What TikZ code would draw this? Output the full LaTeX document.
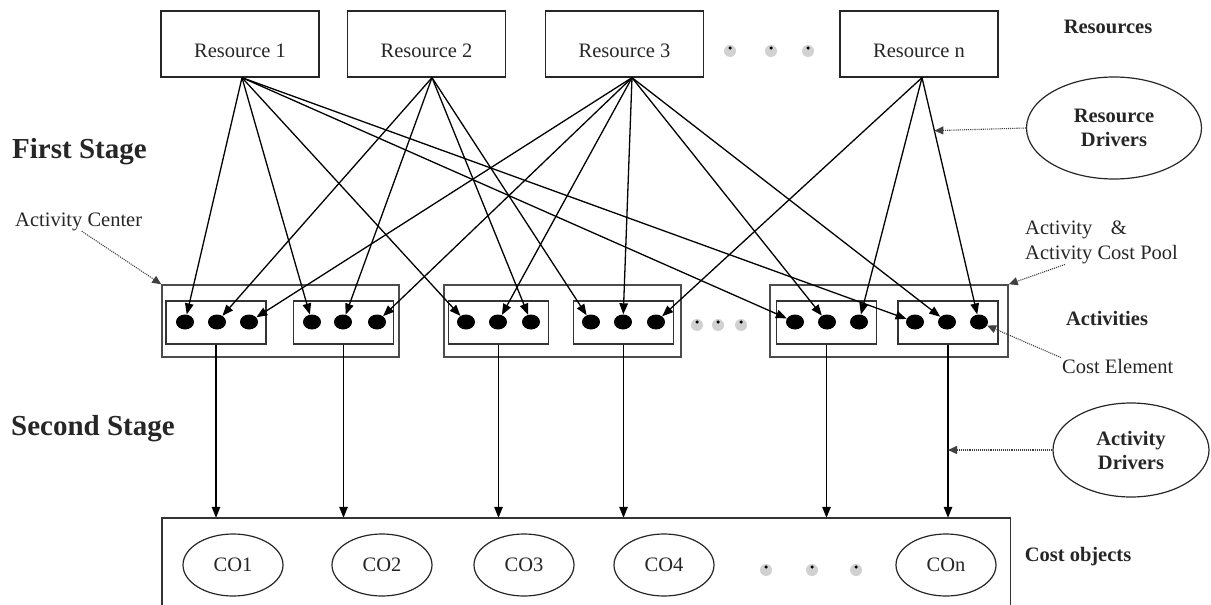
\documentclass[tikz,border=0pt]{standalone}
\usepackage{fontspec}
\setmainfont{Liberation Serif}
\usetikzlibrary{arrows.meta,shapes.geometric,calc}
\begin{document}
\begin{tikzpicture}[x=1pt,y=-1pt,
  every node/.style={font=\fontsize{20.5}{25}\selectfont, text=black!85},
  res/.style={draw=black!85, line width=1.3pt, minimum width=158pt, minimum height=66pt, inner sep=0pt, text height=26pt, text depth=0pt},
  grp/.style={draw=black!70, line width=1.5pt, minimum width=237pt, minimum height=72pt, inner sep=0pt},
  inbox/.style={draw=black!80, line width=1.3pt, minimum width=100pt, minimum height=43pt, inner sep=0pt},
  cel/.style={ellipse, fill=black, minimum width=18pt, minimum height=15pt, inner sep=0pt},
  co/.style={ellipse, draw=black!85, line width=1.2pt, minimum width=100pt, minimum height=62pt, inner sep=0pt},
  drv/.style={ellipse, draw=black!85, line width=1.2pt, inner sep=0pt, align=center, font=\fontsize{20.5}{24}\selectfont\bfseries},
  lbl/.style={font=\fontsize{20.5}{25}\selectfont\bfseries},
  stage/.style={font=\fontsize{29}{34}\selectfont\bfseries, anchor=west, inner sep=0pt},
  arr/.style={line width=1.3pt, -{Triangle[length=11pt,width=8.5pt]}},
  dotarr/.style={line width=1.1pt, black!75, densely dotted, -{Triangle[length=9pt,width=8pt]}},
  shade/.style={circle, fill=black!18, minimum size=12pt, inner sep=0pt},
  pt/.style={circle, fill=black, minimum size=3.5pt, inner sep=0pt}]
\useasboundingbox (0,0) rectangle (1211,605);

% resources
\node[res] (r1) at (240,44) {Resource 1};
\node[res] (r2) at (426.5,44) {Resource 2};
\node[res] (r3) at (624.5,44) {Resource 3};
\node[res] (rn) at (919,44) {Resource n};
\foreach \x [count=\i] in {730,771,808} {
  \node[shade] (rs\i) at (\x,51) {};
  \node[pt] (rp\i) at (\x,48) {};
}

% labels on the right and left
\node[lbl] (lres) at (1108,27) {Resources};
\node[stage] (fs) at (12,152) {First Stage};
\node[stage] (ss) at (11,429) {Second Stage};
\node[anchor=west, inner sep=0pt] (ac) at (15,222) {Activity Center};
\node[drv, minimum width=175pt, minimum height=102pt] (rd) at (1114,128) {Resource\\Drivers};
\node[anchor=north west, align=left, inner sep=0pt] (acp) at (1025,221) {Activity\hspace{0.9em}\&\\Activity Cost Pool};
\node[lbl] (lact) at (1107,318) {Activities};
\node[anchor=west, inner sep=1pt] (ce) at (1061,366) {Cost Element};
\node[drv, minimum width=156pt, minimum height=94pt] (ad) at (1131,450) {Activity\\Drivers};
\node[lbl] (lco) at (1078,557) {Cost objects};

% activity centers
\node[grp] (g1) at (280.5,321) {};
\node[grp] (g2) at (562.5,321) {};
\node[grp, minimum width=238pt] (g3) at (889,321) {};
\node[inbox] (b11) at (216,322.5) {};
\node[inbox] (b12) at (343.5,322.5) {};
\node[inbox] (b21) at (498.5,322.5) {};
\node[inbox] (b22) at (623.5,322.5) {};
\node[inbox] (b31) at (826.5,322.5) {};
\node[inbox] (b32) at (948,322.5) {};

% cost elements
\foreach \n/\a/\b/\c in {11/185/217/249, 12/312/343/377, 21/466/498/531, 22/591/623/656, 31/795/827/859, 32/915/947/979} {
  \node[cel] (d\n1) at (\a,322) {};
  \node[cel] (d\n2) at (\b,322) {};
  \node[cel] (d\n3) at (\c,322) {};
}
\foreach \x [count=\i] in {697,718,741} {
  \node[shade] (as\i) at (\x,325) {};
  \node[pt] (ap\i) at (\x,322) {};
}

% first stage arrows
\foreach \t in {d111,d121,d211,d311,d321} \draw[arr] ([xshift=2pt]r1.south) -- (\t);
\foreach \t in {d112,d122,d213,d221} \draw[arr] ([xshift=5.5pt]r2.south) -- (\t);
\foreach \t in {d113,d123,d212,d222,d312,d322} \draw[arr] ([xshift=7.5pt]r3.south) -- (\t);
\foreach \t in {d223,d313,d323} \draw[arr] ([xshift=3pt]rn.south) -- (\t);

% cost objects
\node[minimum width=848pt, minimum height=87pt, inner sep=0pt] (cobox) at (586,561.5) {};
\draw[draw=black!80, line width=1.4pt] (cobox.south west) -- (cobox.north west) -- (cobox.north east) -- (cobox.south east);
\node[co] (co1) at (233,565) {CO1};
\node[co] (co2) at (382,565) {CO2};
\node[co] (co3) at (524,565) {CO3};
\node[co] (co4) at (664,565) {CO4};
\node[co] (con) at (946,565) {COn};
\foreach \x [count=\i] in {766,812,856} {
  \node[shade] (cs\i) at (\x,570) {};
  \node[pt] (cp\i) at (\x,567) {};
}

% second stage arrows
\foreach \b in {b11,b12,b21,b22,b31,b32} \draw[arr] (\b.south) -- (\b.south |- cobox.north);

% dotted pointers
\draw[dotarr] ([xshift=3pt]ac.south) -- (g1.north west);
\draw[dotarr] ([xshift=40pt]acp.south west) -- (g3.north east);
\draw[dotarr] (ce.north west) -- (d323);
\draw[dotarr] (rd.west) -- ($([xshift=3pt]rn.south)!0.217!(d323)$);
\draw[dotarr] (ad.west) -- (ad.west -| b32.south);
\end{tikzpicture}
\end{document}
